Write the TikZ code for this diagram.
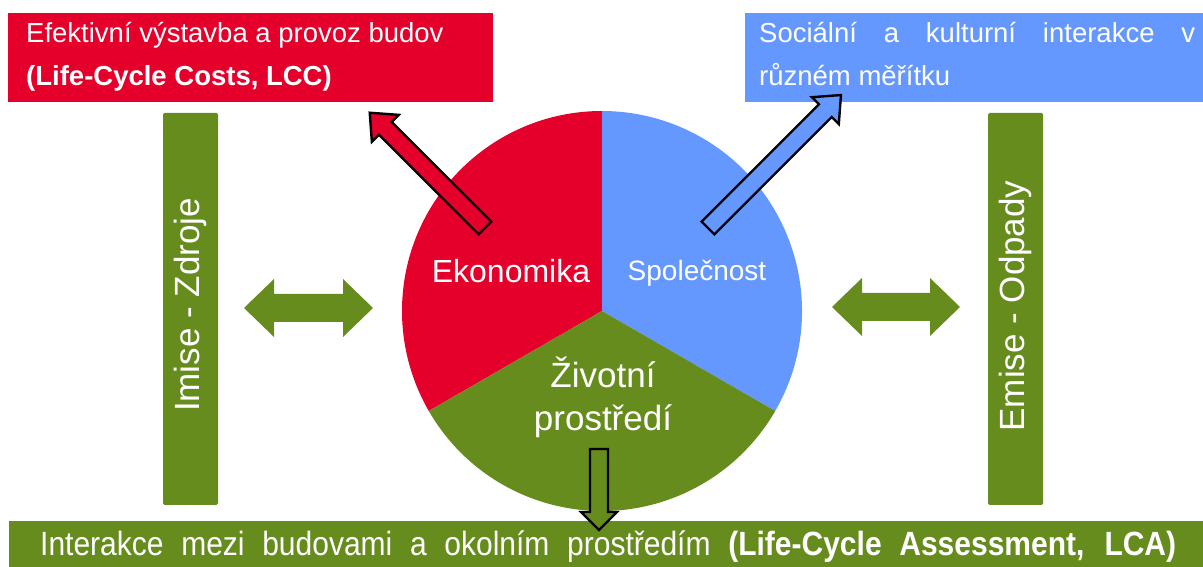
\documentclass[tikz,border=0pt]{standalone}
\usepackage{fontspec}
\usepackage{graphicx}
\setmainfont{Liberation Sans}
\definecolor{ecored}{RGB}{228,0,43}
\definecolor{socblue}{RGB}{101,152,255}
\definecolor{envgreen}{RGB}{103,140,30}
\tikzset{
  boxfill/.style={inner sep=0pt, outer sep=0pt, anchor=north west},
  bartext/.style={text=white, font=\fontsize{35}{40}\selectfont, rotate=90, inner sep=0pt},
  boxtext/.style={text=white, font=\fontsize{27.5}{32}\selectfont, anchor=base west, inner sep=0pt},
  pielabel/.style={text=white, anchor=base, inner sep=0pt},
  blockarrow/.style={draw=black, line width=2.4pt, line join=miter},
  dblarrow/.style={fill=envgreen}
}
\begin{document}
\begin{tikzpicture}[x=1pt,y=1pt]
\useasboundingbox (0,0) rectangle (1203,567);
% top boxes
\node[boxfill, fill=ecored, minimum width=485pt, minimum height=89pt] (lccbox) at (8,554) {};
\node[boxtext] (lcc1) at (26,524) {Efektivní výstavba a provoz budov};
\node[boxtext] (lcc2) at (26,481) {\textbf{(Life-Cycle Costs, LCC)}};
\node[boxfill, fill=socblue, minimum width=458pt, minimum height=89pt] (socbox) at (745,554) {};
\node[boxtext] (soc1) at (759,524) {\makebox[436pt][s]{Sociální a kulturní interakce v}};
\node[boxtext] (soc2) at (759,481) {různém měřítku};
% side bars
\node[boxfill, fill=envgreen, minimum width=55pt, minimum height=392pt, rounded corners=1.5pt] (leftbar) at (163,454) {};
\node[bartext] (lefttext) at (190.5,262) {Imise - Zdroje};
\node[boxfill, fill=envgreen, minimum width=55pt, minimum height=392pt, rounded corners=1.5pt] (rightbar) at (988,454) {};
\node[bartext] (righttext) at (1015.5,261) {Emise - Odpady};
% bottom bar
\node[boxfill, fill=envgreen, minimum width=1194pt, minimum height=46pt] (lcabox) at (9,46) {};
\node[boxtext, font=\fontsize{30}{34}\selectfont] (lcatext) at (40,11) {\scalebox{1}[1.12]{\makebox[1136pt][s]{Interakce mezi budovami a okolním prostředím \textbf{(Life-Cycle Assessment, LCA)}}}};
% pie
\coordinate (C) at (602,256);
\fill[ecored] (C) -- ++(90:200) arc[start angle=90, end angle=210, radius=200] -- cycle;
\fill[socblue] (C) -- ++(-30:200) arc[start angle=-30, end angle=90, radius=200] -- cycle;
\fill[envgreen] (C) -- ++(210:200) arc[start angle=210, end angle=330, radius=200] -- cycle;
\node[pielabel, font=\fontsize{32}{36}\selectfont] (eko) at (511,284) {Ekonomika};
\node[pielabel, font=\fontsize{28}{32}\selectfont] (spol) at (697,286) {Společnost};
\node[pielabel, font=\fontsize{35}{40}\selectfont] (ziv1) at (603,179) {Životní};
\node[pielabel, font=\fontsize{35}{40}\selectfont] (ziv2) at (603,136) {prostředí};
% block arrows
\coordinate (redtail) at (485,339);
\coordinate (bluetail) at (708,339);
\coordinate (greentail) at (599,118);
\draw[blockarrow, fill=ecored, shift={(redtail)}, rotate=135]
  (0,9) -- (141,9) -- (141,19) -- (163,0) -- (141,-19) -- (141,-9) -- (0,-9) -- cycle;
\draw[blockarrow, fill=socblue, shift={(bluetail)}, rotate=45]
  (0,9) -- (166,9) -- (166,19) -- (188,0) -- (166,-19) -- (166,-9) -- (0,-9) -- cycle;
\draw[blockarrow, fill=envgreen, shift={(greentail)}, rotate=-90]
  (0,9) -- (63,9) -- (63,18) -- (81,0) -- (63,-18) -- (63,-9) -- (0,-9) -- cycle;
% double arrows
\fill[dblarrow] (244,259) -- (274,288) -- (274,273) -- (343,273) -- (343,288) -- (373,259)
  -- (343,230) -- (343,245) -- (274,245) -- (274,230) -- cycle;
\fill[dblarrow] (832,260) -- (862,289) -- (862,274) -- (930,274) -- (930,289) -- (960,260)
  -- (930,231) -- (930,246) -- (862,246) -- (862,231) -- cycle;
\end{tikzpicture}
\end{document}
